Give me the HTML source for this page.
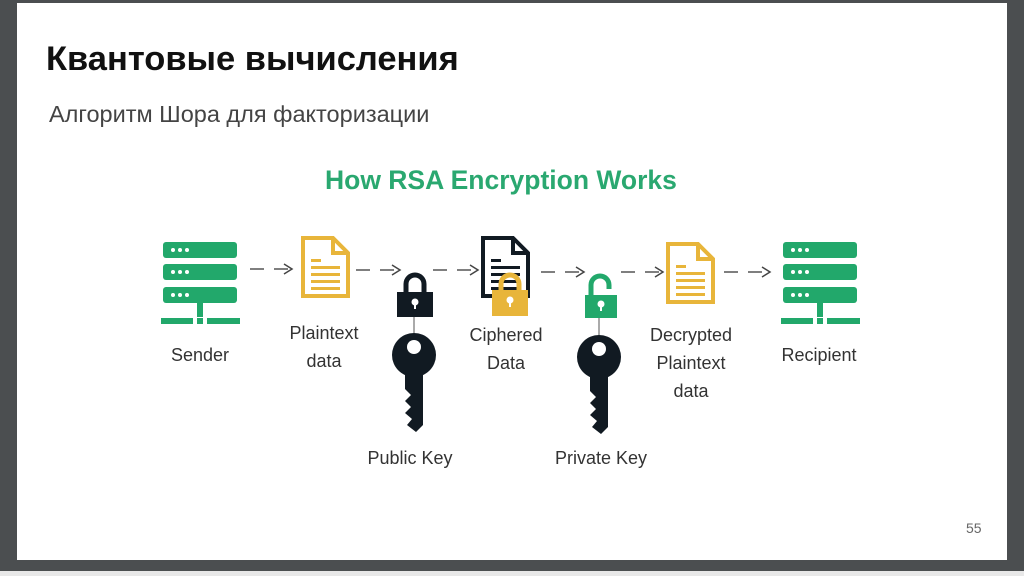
<!DOCTYPE html>
<html><head><meta charset="utf-8"><style>
body{margin:0;width:1024px;height:576px;background:#4b4e50;position:relative;overflow:hidden;font-family:"Liberation Sans",sans-serif}
.slide{position:absolute;left:17px;top:3px;width:990px;height:557px;background:#fff}
.strip{position:absolute;left:0;top:571px;width:1024px;height:5px;background:#e8e8e8}
.t{position:absolute;white-space:nowrap}
.l{position:absolute;color:#333;font-size:18px;text-align:center;line-height:28px;transform:translateX(-50%)}
</style></head><body>
<div class="slide"></div><div class="strip"></div>
<div class="t" style="left:46px;top:40px;font-size:34.5px;font-weight:bold;color:#111">Квантовые вычисления</div>
<div class="t" style="left:49px;top:101px;font-size:23.5px;color:#444">Алгоритм Шора для факторизации</div>
<div class="t" style="left:325px;top:165px;font-size:26.5px;font-weight:bold;color:#2aa870">How RSA Encryption Works</div>
<div class="t" style="left:966px;top:520px;font-size:14px;color:#666">55</div>
<svg width="1024" height="576" style="position:absolute;left:0;top:0">
<defs>
<g id="srv">
<rect x="0" y="0" width="74" height="16" rx="3" fill="#22a86b"/>
<rect x="0" y="22" width="74" height="16" rx="3" fill="#22a86b"/>
<rect x="0" y="45" width="74" height="16" rx="3" fill="#22a86b"/>
<g fill="#fff"><circle cx="10" cy="8" r="2"/><circle cx="17" cy="8" r="2"/><circle cx="24" cy="8" r="2"/>
<circle cx="10" cy="30" r="2"/><circle cx="17" cy="30" r="2"/><circle cx="24" cy="30" r="2"/>
<circle cx="10" cy="53" r="2"/><circle cx="17" cy="53" r="2"/><circle cx="24" cy="53" r="2"/></g>
<rect x="34" y="61" width="6" height="14" fill="#22a86b"/>
<rect x="-2" y="76" width="32" height="6" fill="#22a86b"/>
<rect x="34" y="76" width="6" height="6" fill="#22a86b"/>
<rect x="44" y="76" width="33" height="6" fill="#22a86b"/>
</g>
<g id="doc">
<path d="M2 2 H32 L47 17 V60 H2 Z" fill="#fff" stroke="currentColor" stroke-width="4" stroke-linejoin="miter"/>
<path d="M32 2 V17 H47" fill="none" stroke="currentColor" stroke-width="4"/>
<g fill="currentColor"><rect x="10" y="23" width="10" height="3"/><rect x="10" y="30" width="29" height="3"/><rect x="10" y="37" width="29" height="3"/><rect x="10" y="44" width="29" height="3"/><rect x="10" y="51" width="29" height="3"/></g>
</g>
<g id="key" fill="#111a22">
<circle cx="0" cy="0" r="22"/>
<path d="M-9 15 H9 V70 L2 77 L-7 70 L-2 64 L-9 58 L-3 52 L-9 46 L-3 40 L-9 34 Z"/>
<circle cx="0" cy="-8" r="7" fill="#fff"/>
</g>
<marker id="ah" markerWidth="12" markerHeight="12" refX="10" refY="6" orient="auto" markerUnits="userSpaceOnUse"><path d="M2 1 L10 6 L2 11" fill="none" stroke="#444" stroke-width="1.5"/></marker>
</defs>
<g stroke="#555" stroke-width="1.5" stroke-dasharray="14,10" fill="none" marker-end="url(#ah)">
<line x1="250" y1="269" x2="292" y2="269"/>
<line x1="356" y1="270" x2="400" y2="270"/>
<line x1="433" y1="270" x2="478" y2="270"/>
<line x1="541" y1="272" x2="584" y2="272"/>
<line x1="621" y1="272" x2="663" y2="272"/>
<line x1="724" y1="272" x2="770" y2="272"/>
</g>
<use href="#srv" x="163" y="242"/>
<use href="#srv" x="783" y="242"/>
<use href="#doc" x="301" y="236" style="color:#e8b53a"/>
<use href="#doc" x="666" y="242" style="color:#e8b53a"/>
<use href="#doc" x="481" y="236" style="color:#111a22"/>
<path d="M406 294 V284 a9 9 0 0 1 18 0 V294" fill="none" stroke="#111a22" stroke-width="5"/>
<rect x="397" y="292" width="36" height="25" fill="#111a22"/>
<circle cx="415" cy="302" r="3.5" fill="#fff"/><rect x="414" y="302" width="2" height="7" fill="#fff"/>
<line x1="414" y1="317" x2="414" y2="334" stroke="#555" stroke-width="1"/>
<use href="#key" x="414" y="355"/>
<path d="M501 293 V284 a9 9 0 0 1 18 0 V293" fill="none" stroke="#e8b53a" stroke-width="5"/>
<rect x="492" y="290" width="36" height="26" fill="#e8b53a"/>
<circle cx="510" cy="300" r="3.5" fill="#fff"/><rect x="509" y="300" width="2" height="7" fill="#fff"/>
<path d="M591 296 V285 a9 9 0 0 1 18 0 V289" fill="none" stroke="#22a86b" stroke-width="5"/>
<rect x="585" y="295" width="32" height="23" fill="#22a86b"/>
<circle cx="601" cy="304" r="3.5" fill="#fff"/><rect x="600" y="304" width="2" height="7" fill="#fff"/>
<line x1="599" y1="318" x2="599" y2="336" stroke="#555" stroke-width="1"/>
<use href="#key" x="599" y="357"/>
</svg>
<div class="l" style="left:200px;top:341px">Sender</div>
<div class="l" style="left:324px;top:319px">Plaintext<br>data</div>
<div class="l" style="left:506px;top:321px">Ciphered<br>Data</div>
<div class="l" style="left:691px;top:321px">Decrypted<br>Plaintext<br>data</div>
<div class="l" style="left:819px;top:341px">Recipient</div>
<div class="l" style="left:410px;top:444px">Public Key</div>
<div class="l" style="left:601px;top:444px">Private Key</div>
</body></html>
